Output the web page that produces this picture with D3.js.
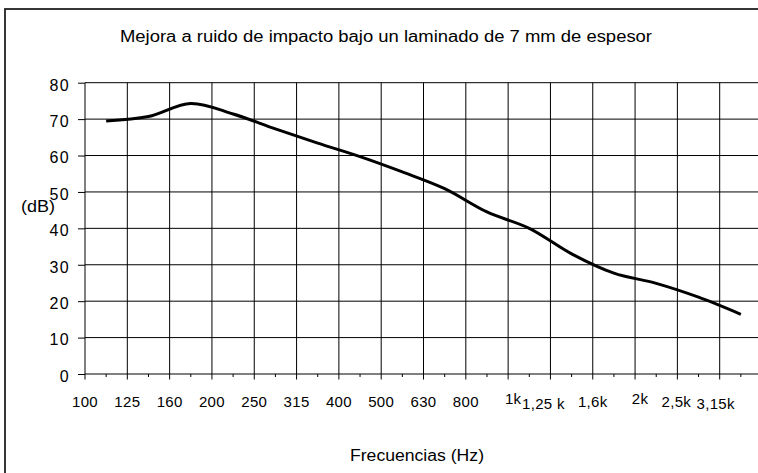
<!DOCTYPE html>
<html>
<head>
  <meta charset="utf-8">
  <title>Mejora a ruido de impacto</title>
  <style>
    body { margin: 0; background: #fff; }
    svg text { font-family: "Liberation Sans", Arial, sans-serif; fill: #000; }
  </style>
</head>
<body>
  <div id="chart"></div>

  <script src="https://d3js.org/d3.v7.min.js"></script>
  <script>
    // Data
    const freqLabels = ["100", "125", "160", "200", "250", "315", "400", "500", "630", "800",
                        "1k", "1,25 k", "1,6k", "2k", "2,5k", "3,15k"];
    const improvement = [69.5, 70.7, 74.3, 71.4, 67.3, 63.4, 59.7, 55.5, 50.9, 44.5,
                         40.0, 33.0, 27.7, 24.9, 21.1, 16.4];
    const yTicks = [0, 10, 20, 30, 40, 50, 60, 70, 80];

    // the hand-placed labels at the high end of the axis sit a bit off their ticks
    const labelShift = [[0, 0], [0, 0], [0, 0], [0, 0], [0, 0], [0, 0], [0, 0], [0, 0], [0, 0], [0, 0],
                        [5, -3], [-7, 2], [0, 0], [5, -3], [-1, 0], [-4, 2]];

    const width = 758, height = 473;
    const plotLeft = 85, plotRight = 762, plotTop = 82.7, plotBottom = 374;

    const svg = d3.select("#chart")
      .append("svg")
      .attr("width", width)
      .attr("height", height);

    // outer frame (right and bottom sides run off the picture)
    svg.append("rect")
      .attr("x", 5)
      .attr("y", 9)
      .attr("width", 820)
      .attr("height", 520)
      .attr("fill", "none")
      .attr("stroke", "#222")
      .attr("stroke-width", 1.8);

    const x = d3.scaleBand()
      .domain(d3.range(freqLabels.length))
      .range([plotLeft, plotRight])
      .padding(0);

    const y = d3.scaleLinear()
      .domain([0, 80])
      .range([plotBottom, plotTop]);

    // horizontal grid
    svg.append("g")
      .selectAll("line")
      .data(yTicks.slice(1))
      .enter()
      .append("line")
      .attr("x1", plotLeft)
      .attr("x2", plotRight)
      .attr("y1", d => y(d))
      .attr("y2", d => y(d))
      .attr("stroke", "#000")
      .attr("stroke-width", 1);

    // vertical grid at category boundaries
    svg.append("g")
      .selectAll("line")
      .data(d3.range(1, freqLabels.length))
      .enter()
      .append("line")
      .attr("x1", d => x(d))
      .attr("x2", d => x(d))
      .attr("y1", plotTop)
      .attr("y2", plotBottom)
      .attr("stroke", "#000")
      .attr("stroke-width", 1);

    // y axis
    const yAxis = d3.axisLeft(y)
      .tickValues(yTicks)
      .tickSize(7)
      .tickPadding(8);

    const gy = svg.append("g")
      .attr("transform", `translate(${plotLeft}, 0)`)
      .call(yAxis);
    gy.select(".domain").attr("stroke", "#000").attr("d", `M0,${plotTop}V${plotBottom}`);
    gy.selectAll(".tick line").attr("stroke", "#000");
    gy.selectAll("text")
      .style("font-size", "16px")
      .style("letter-spacing", "1.3px")
      .attr("dy", "0.46em")
      .attr("fill", "#000");

    // x axis: major ticks at boundaries, minor in the middle of each category
    svg.append("line")
      .attr("x1", plotLeft)
      .attr("x2", plotRight)
      .attr("y1", plotBottom)
      .attr("y2", plotBottom)
      .attr("stroke", "#000");

    svg.append("g")
      .selectAll("line")
      .data(d3.range(freqLabels.length))
      .enter()
      .append("line")
      .attr("x1", d => x(d))
      .attr("x2", d => x(d))
      .attr("y1", plotBottom)
      .attr("y2", plotBottom + 5.5)
      .attr("stroke", "#000");

    svg.append("g")
      .selectAll("line")
      .data(d3.range(freqLabels.length))
      .enter()
      .append("line")
      .attr("x1", d => x(d) + x.bandwidth() / 2)
      .attr("x2", d => x(d) + x.bandwidth() / 2)
      .attr("y1", plotBottom)
      .attr("y2", plotBottom + 3)
      .attr("stroke", "#000");

    svg.append("g")
      .selectAll("text")
      .data(freqLabels)
      .enter()
      .append("text")
      .attr("x", (d, i) => x(i) + labelShift[i][0])
      .attr("y", (d, i) => 406.5 + labelShift[i][1])
      .attr("text-anchor", "middle")
      .style("font-size", "15px")
      .style("letter-spacing", "0.3px")
      .text(d => d);

    // curve
    const line = d3.line()
      .x((d, i) => x(i) + x.bandwidth() / 2)
      .y(d => y(d))
      .curve(d3.curveCatmullRom.alpha(0.5));

    svg.append("path")
      .datum(improvement)
      .attr("d", line)
      .attr("fill", "none")
      .attr("stroke", "#000")
      .attr("stroke-width", 3);

    // titles (the original text is drawn a little wide)
    svg.append("text")
      .attr("x", 386)
      .attr("y", 41.5)
      .attr("text-anchor", "middle")
      .attr("textLength", 532)
      .attr("lengthAdjust", "spacingAndGlyphs")
      .style("font-size", "16px")
      .text("Mejora a ruido de impacto bajo un laminado de 7 mm de espesor");

    svg.append("text")
      .attr("x", 21)
      .attr("y", 212)
      .attr("textLength", 34)
      .attr("lengthAdjust", "spacingAndGlyphs")
      .style("font-size", "16px")
      .text("(dB)");

    svg.append("text")
      .attr("x", 417)
      .attr("y", 460.5)
      .attr("text-anchor", "middle")
      .attr("textLength", 134)
      .attr("lengthAdjust", "spacingAndGlyphs")
      .style("font-size", "16px")
      .text("Frecuencias (Hz)");
  </script>
</body>
</html>
